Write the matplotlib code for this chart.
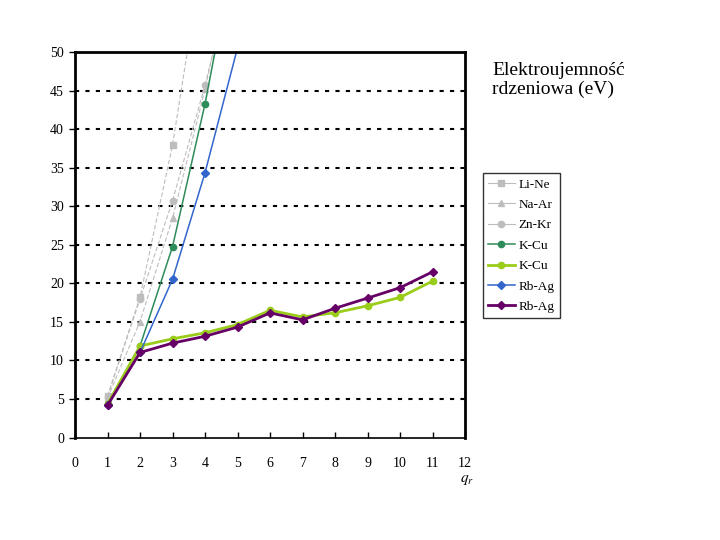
import matplotlib
matplotlib.use("Agg")
import matplotlib.pyplot as plt
from matplotlib.lines import Line2D

plt.rcParams['font.family'] = ['Liberation Serif', 'DejaVu Serif']
plt.rcParams['mathtext.fontset'] = 'stix'

q = [1, 2, 3, 4, 5, 6, 7, 8, 9, 10, 11]

li_ne = [5.39, 18.21, 37.93, 64.49]
na_ar = [5.14, 15.04, 28.45, 45.14, 65.0]
zn_kr = [5.3, 17.96, 30.71, 45.71, 62.63]
k_cu_a = [4.34, 11.87, 24.76, 43.27, 65.28]
k_cu_b = [4.34, 11.87, 12.80, 13.58, 14.65, 16.50, 15.64, 16.18, 17.08, 18.17, 20.29]
rb_ag_a = [4.18, 11.03, 20.52, 34.34, 50.55]
rb_ag_b = [4.18, 11.03, 12.24, 13.13, 14.32, 16.16, 15.26, 16.76, 18.08, 19.43, 21.49]

labels = ["Li-Ne", "Na-Ar", "Zn-Kr", "K-Cu", "K-Cu", "Rb-Ag", "Rb-Ag"]

fig = plt.figure(figsize=(7.2, 5.4), dpi=100)
ax = fig.add_axes([0.1042, 0.1898, 0.5417, 0.7139])

gray = "#bdbdbd"
series = [
    (li_ne, dict(color=gray, marker='s', ms=5, lw=0.8, ls=(0, (4, 2)))),
    (na_ar, dict(color=gray, marker='^', ms=5, lw=0.8, ls=(0, (4, 2)))),
    (zn_kr, dict(color=gray, marker='o', ms=4.5, lw=0.8, ls=(0, (4, 2)))),
    (k_cu_a, dict(color="#2e8b5a", marker='o', ms=4.5, lw=1.1, ls='-')),
    (k_cu_b, dict(color="#9acd1a", marker='o', ms=4.5, lw=2.0, ls='-')),
    (rb_ag_a, dict(color="#3366cc", marker='D', ms=3.8, lw=1.1, ls='-')),
    (rb_ag_b, dict(color="#660066", marker='D', ms=3.8, lw=2.0, ls='-')),
]
handles = []
for (vals, st), lab in zip(series, labels):
    ax.plot(q[:len(vals)], vals, label=lab, clip_on=True, **st)
    hst = dict(st)
    hst['ls'] = '-'
    handles.append(Line2D([], [], **hst))

ax.set_xlim(0, 12)
ax.set_ylim(0, 50)
ax.set_xticks(range(0, 13))
ax.set_yticks(range(0, 51, 5))
for y in range(5, 50, 5):
    ax.axhline(y, color='black', lw=1.5, ls=(0, (2, 3)), zorder=0)

for s in ax.spines.values():
    s.set_linewidth(2.0)
    s.set_color('black')
ax.spines['bottom'].set_linewidth(1.2)

ax.tick_params(axis='x', direction='in', length=4, width=1, pad=14, labelsize=10)
ax.tick_params(axis='y', direction='out', length=4, width=1, pad=4, labelsize=10)

fig.text(467/720, 1 - 480/540, r"$q_r$", fontsize=11, ha='center', va='center')

fig.text(492/720, 1 - 62/540, "Elektroujemność\nrdzeniowa (eV)", fontsize=14,
         ha='left', va='top', linespacing=1.15)

leg = fig.legend(handles=handles, labels=labels, loc='upper left',
                 bbox_to_anchor=(483/720, 1 - 173/540), fontsize=9.5,
                 frameon=True, fancybox=False, shadow=False, borderaxespad=0,
                 labelspacing=0.62, handlelength=2.0, handletextpad=0.3,
                 borderpad=0.4)
leg.get_frame().set_edgecolor('black')
leg.get_frame().set_linewidth(1.0)

fig.savefig("out.png", dpi=100)
